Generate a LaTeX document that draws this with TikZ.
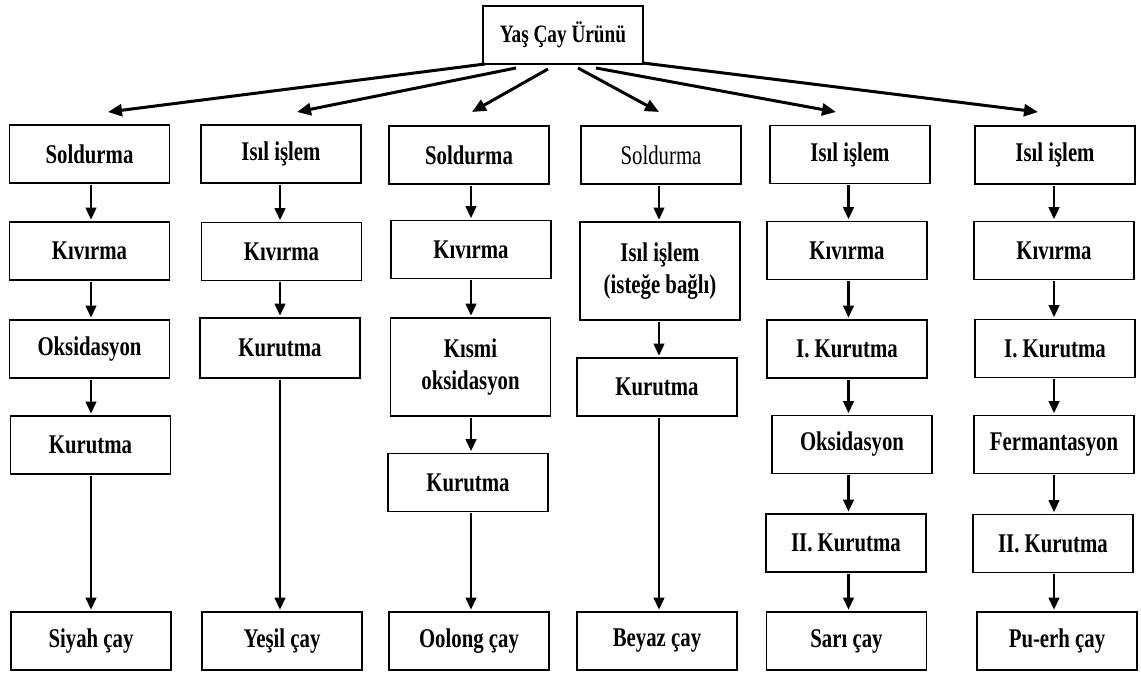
\documentclass[tikz,border=0pt]{standalone}
\usepackage{fontspec}
\setmainfont{Liberation Serif}[FakeStretch=0.77]
\usetikzlibrary{arrows.meta}
\begin{document}
\begin{tikzpicture}[x=1pt,y=-1pt,
  box/.style={draw, line width=1.6pt, minimum width=160pt, minimum height=58pt,
    inner sep=0pt, align=center, font=\fontsize{27}{32}\selectfont\bfseries},
  tall/.style={minimum height=98pt},
  plain/.style={font=\fontsize{27}{32}\selectfont},
  varr/.style={line width=2.4pt, -{Triangle[length=12pt,width=10.5pt]}, shorten <=1pt, shorten >=1.5pt},
  tarr/.style={line width=3pt, -{Triangle[length=14pt,width=12pt]}}]
\useasboundingbox (0,0) rectangle (1141,675);
% top
\node[box, font=\fontsize{25}{30}\selectfont\bfseries] (top) at (563,35) {Yaş Çay Ürünü};
% column 1
\node[box] (s1) at (89.5,154) {Soldurma};
\node[box] (k1) at (89.5,251) {Kıvırma};
\node[box] (o1) at (89.5,349) {Oksidasyon};
\node[box] (ku1) at (90.5,445) {Kurutma};
\node[box] (siyah) at (91,641) {Siyah çay};
% column 2
\node[box] (i2) at (281,154) {Isıl işlem};
\node[box] (k2) at (281.5,251.5) {Kıvırma};
\node[box, minimum height=60pt] (ku2) at (280,348) {Kurutma};
\node[box] (yesil) at (282,641) {Yeşil çay};
% column 3
\node[box] (s3) at (469,155) {Soldurma};
\node[box] (k3) at (471,249.5) {Kıvırma};
\node[box, tall] (km3) at (470.5,367) {Kısmi\\oksidasyon};
\node[box] (ku3) at (468,482.5) {Kurutma};
\node[box] (oolong) at (469,641) {Oolong çay};
% column 4
\node[box, plain] (s4) at (661,155) {Soldurma};
\node[box, tall] (i4) at (660,271) {Isıl işlem\\(isteğe bağlı)};
\node[box] (ku4) at (657,387) {Kurutma};
\node[box] (beyaz) at (657,641) {Beyaz çay};
% column 5
\node[box] (i5) at (850,154.5) {Isıl işlem};
\node[box] (k5) at (847,250.5) {Kıvırma};
\node[box] (ik5) at (847,349) {I. Kurutma};
\node[box] (o5) at (852,444.5) {Oksidasyon};
\node[box] (iik5) at (846,543) {II. Kurutma};
\node[box] (sari) at (846.5,641) {Sarı çay};
% column 6
\node[box] (i6) at (1055,155) {Isıl işlem};
\node[box] (k6) at (1054,250.5) {Kıvırma};
\node[box] (ik6) at (1055,348.5) {I. Kurutma};
\node[box] (f6) at (1054,444.5) {Fermantasyon};
\node[box] (iik6) at (1053,543.5) {II. Kurutma};
\node[box] (pu) at (1057,641) {Pu-erh çay};
% top arrows
\coordinate (fa) at (485,64);
\coordinate (fb) at (516,68);
\coordinate (fc) at (548,69);
\coordinate (fd) at (578,68);
\coordinate (fe) at (596,68);
\coordinate (ff) at (643,63);
\coordinate (ta) at (108,112);
\coordinate (tb) at (297,112);
\coordinate (tc) at (472,112);
\coordinate (td) at (659,112);
\coordinate (te) at (836,112);
\coordinate (tf) at (1038,112);
\draw[tarr] (fa) -- (ta);
\draw[tarr] (fb) -- (tb);
\draw[tarr] (fc) -- (tc);
\draw[tarr] (fd) -- (td);
\draw[tarr] (fe) -- (te);
\draw[tarr] (ff) -- (tf);
% column axes for the vertical arrows
\coordinate (c1) at (91,0);
\coordinate (c2) at (280,0);
\coordinate (c3) at (471,0);
\coordinate (c4) at (659,0);
\coordinate (c5) at (848.5,0);
\coordinate (c6) at (1054,0);
\foreach \a/\b/\c in {s1/k1/c1,k1/o1/c1,o1/ku1/c1,ku1/siyah/c1,
                   i2/k2/c2,k2/ku2/c2,ku2/yesil/c2,
                   s3/k3/c3,k3/km3/c3,km3/ku3/c3,ku3/oolong/c3,
                   s4/i4/c4,i4/ku4/c4,ku4/beyaz/c4,
                   i5/k5/c5,k5/ik5/c5,ik5/o5/c5,o5/iik5/c5,iik5/sari/c5,
                   i6/k6/c6,k6/ik6/c6,ik6/f6/c6,f6/iik6/c6,iik6/pu/c6}
  \draw[varr] (\a.south -| \c) -- (\b.north -| \c);
\end{tikzpicture}
\end{document}
